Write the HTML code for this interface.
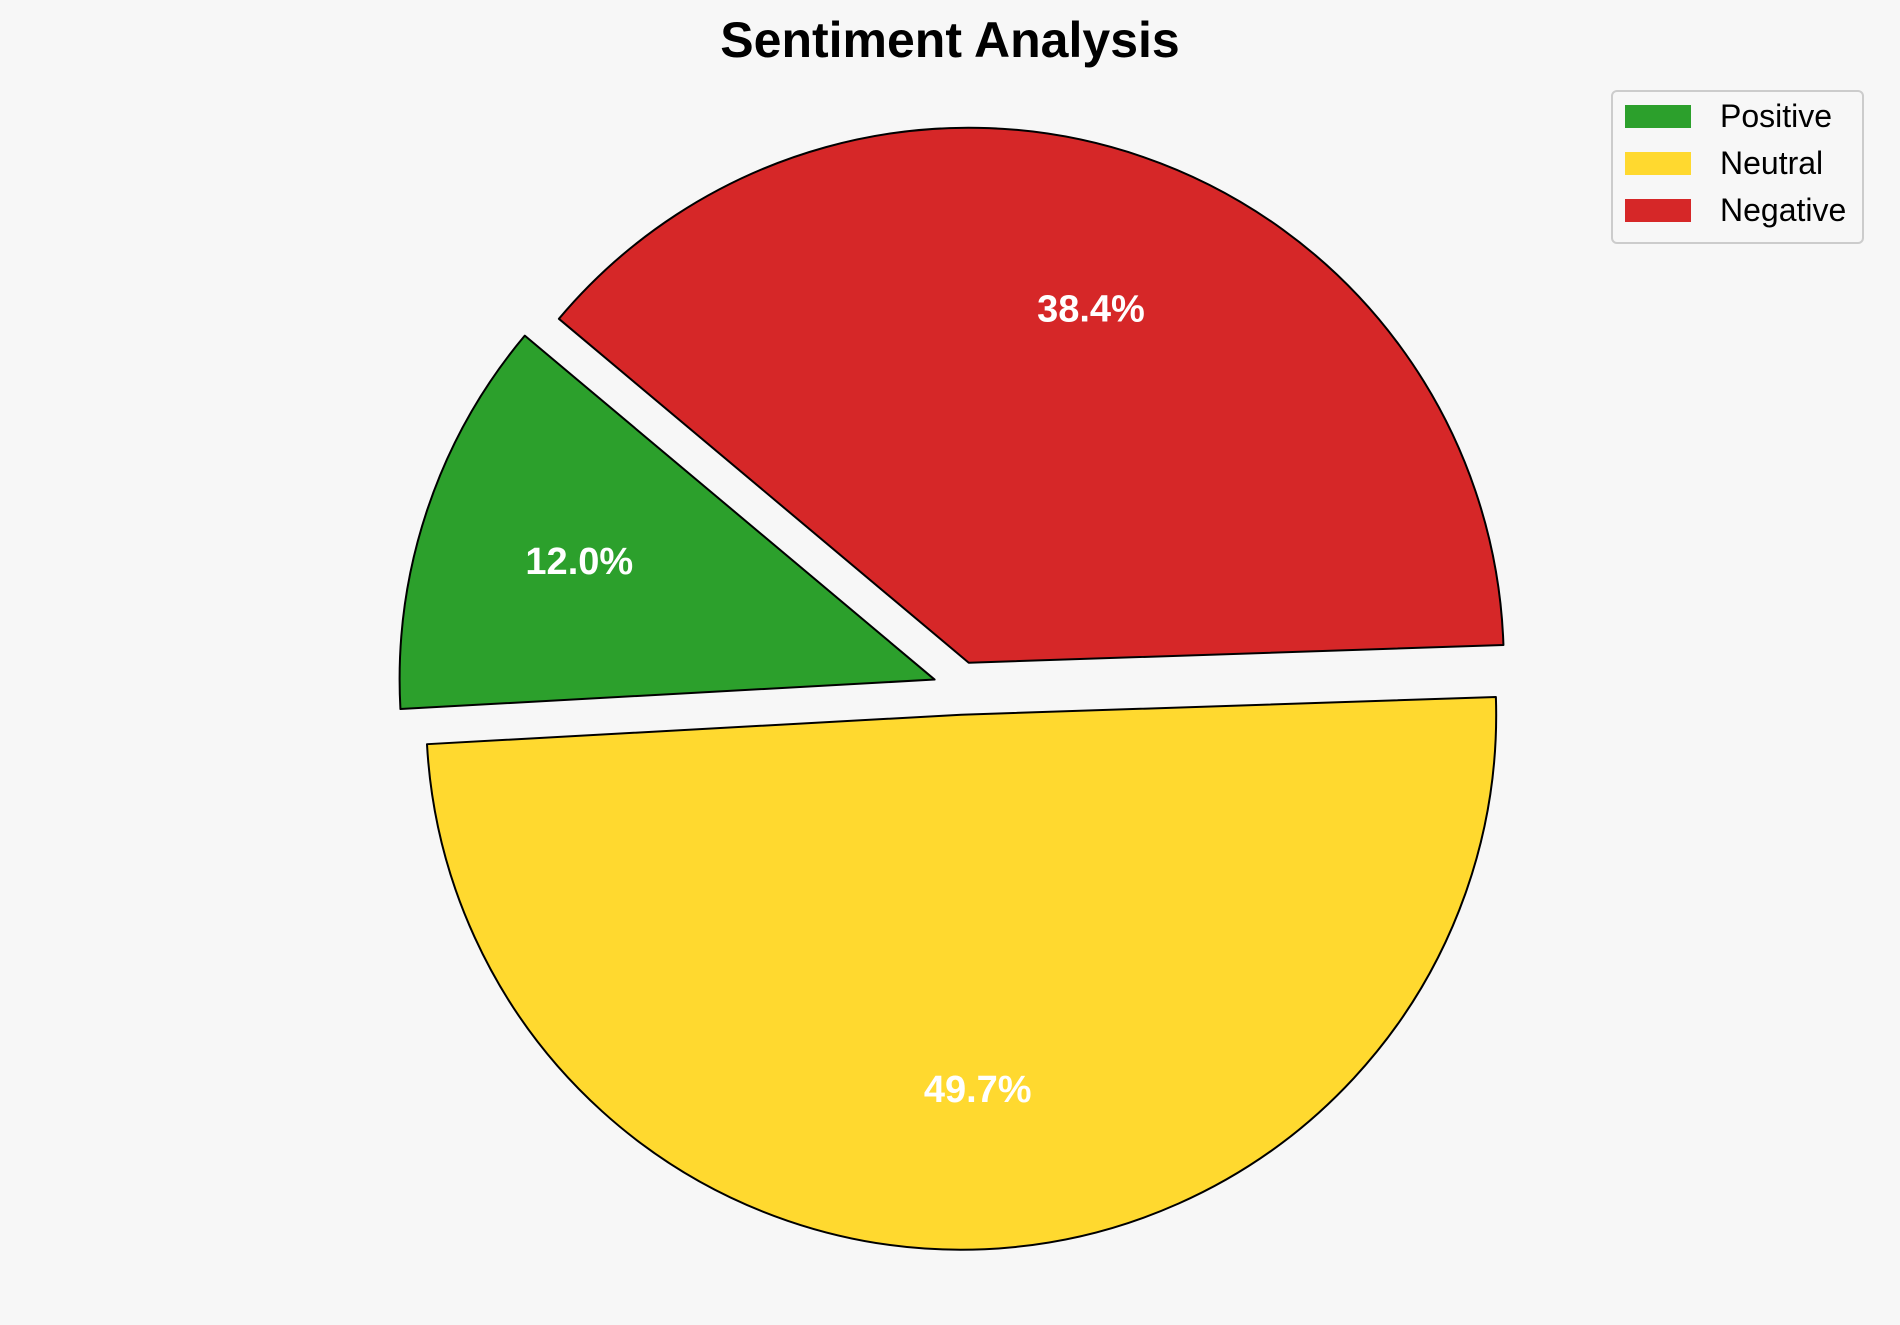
<!DOCTYPE html>
<html><head><meta charset="utf-8"><style>
html,body{margin:0;padding:0;background:#f7f7f7;}
svg{display:block;font-family:"Liberation Sans",Arial,sans-serif;}
</style></head><body>
<svg id="chart" width="1900" height="1325" viewBox="0 0 1900 1325">
<rect width="1900" height="1325" fill="#f7f7f7"/>
<text x="950" y="57" text-anchor="middle" font-size="50" font-weight="bold" fill="#000">Sentiment Analysis</text>
<g id="pie"></g>
<g>
<rect x="1612" y="91" width="251" height="152" rx="5" fill="#f7f7f7" stroke="#cccccc" stroke-width="2"/>
<g id="legendItems"></g>
</g>
</svg>
<script>
const categories = ["Positive", "Neutral", "Negative"];
const values = [12.0, 49.7, 38.4];
const colors = ["#2ca02c", "#ffd92f", "#d62728"];
const explode = [0.05, 0.05, 0.05];
const startAngle = 140;

const NS = "http://www.w3.org/2000/svg";
const cx = 960, cy = 688, R = 535, pctDist = 0.7;
const pie = document.getElementById("pie");
const total = values.reduce((a, b) => a + b, 0);
let a0 = startAngle;
const pt = (x, y, r, deg) => [x + r * Math.cos(deg * Math.PI / 180), y - r * Math.sin(deg * Math.PI / 180)];
values.forEach((v, i) => {
  const sweep = v / total * 360;
  const a1 = a0 + sweep, mid = a0 + sweep / 2;
  const [ox, oy] = pt(cx, cy, explode[i] * R, mid);
  const [x0, y0] = pt(ox, oy, R, a0);
  const [x1, y1] = pt(ox, oy, R, a1);
  const p = document.createElementNS(NS, "path");
  p.setAttribute("d", `M${ox},${oy} L${x0},${y0} A${R},${R} 0 ${sweep > 180 ? 1 : 0} 0 ${x1},${y1} Z`);
  p.setAttribute("fill", colors[i]);
  p.setAttribute("stroke", "#000");
  p.setAttribute("stroke-width", "2");
  p.setAttribute("stroke-linejoin", "round");
  
  
  pie.appendChild(p);
  const [tx, ty] = pt(ox, oy, R * pctDist, mid);
  const t = document.createElementNS(NS, "text");
  t.setAttribute("x", tx); t.setAttribute("y", ty + 13);
  t.setAttribute("text-anchor", "middle");
  t.setAttribute("font-size", "38"); t.setAttribute("font-weight", "bold");
  t.setAttribute("fill", "#fff");
  t.textContent = v.toFixed(1) + "%";
  
  
  pie.appendChild(t);
  a0 = a1;
});
const lg = document.getElementById("legendItems");
categories.forEach((c, i) => {
  const y = 116 + i * 47;
  const r = document.createElementNS(NS, "rect");
  r.setAttribute("x", 1625); r.setAttribute("y", y - 11);
  r.setAttribute("width", 66); r.setAttribute("height", 23);
  r.setAttribute("fill", colors[i]);
  
  
  lg.appendChild(r);
  const t = document.createElementNS(NS, "text");
  t.setAttribute("x", 1720); t.setAttribute("y", y + 11);
  t.setAttribute("font-size", "32"); t.setAttribute("fill", "#000");
  t.textContent = c;
  
  
  lg.appendChild(t);
});
</script>
</body></html>
